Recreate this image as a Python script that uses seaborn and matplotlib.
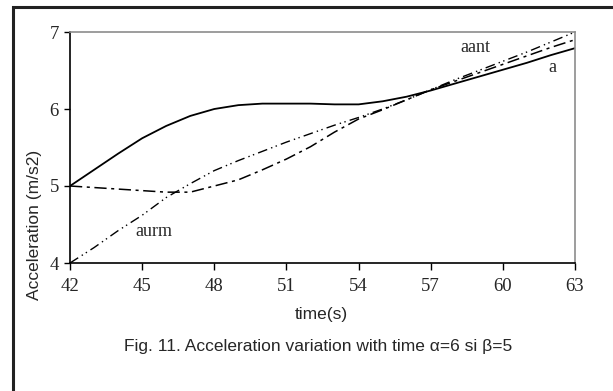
import matplotlib
matplotlib.use("Agg")
import matplotlib.pyplot as plt
import seaborn as sns
import pandas as pd
from matplotlib.patches import Rectangle

time_s = [42, 43, 44, 45, 46, 47, 48, 49, 50, 51, 52, 53, 54, 55, 56, 57, 58, 59, 60, 61, 62, 63]
a_vals = [5.00, 5.21, 5.42, 5.62, 5.78, 5.91, 6.00, 6.05, 6.07, 6.07, 6.07, 6.06, 6.06, 6.10,
          6.16, 6.24, 6.33, 6.42, 6.51, 6.60, 6.70, 6.79]
aant_vals = [5.00, 4.98, 4.96, 4.94, 4.92, 4.92, 5.00, 5.08, 5.21, 5.35, 5.51, 5.70, 5.87, 5.99,
             6.12, 6.25, 6.36, 6.47, 6.58, 6.69, 6.80, 6.90]
aurm_vals = [4.00, 4.20, 4.42, 4.62, 4.85, 5.03, 5.20, 5.33, 5.45, 5.57, 5.68, 5.79, 5.89, 6.00,
             6.12, 6.25, 6.38, 6.50, 6.62, 6.74, 6.87, 7.00]
x_ticks = [42, 45, 48, 51, 54, 57, 60, 63]
y_ticks = [4, 5, 6, 7]

df = pd.DataFrame({"time": time_s, "a": a_vals, "aant": aant_vals, "aurm": aurm_vals})

sns.set_style("white")
fig = plt.figure(figsize=(6.13, 3.91), dpi=100)
ax = fig.add_axes([70/613, 1-263/391, 505/613, 231/391])

sns.lineplot(data=df, x="time", y="a", ax=ax, color="black", linewidth=1.3)
sns.lineplot(data=df, x="time", y="aant", ax=ax, color="black", linewidth=1.1)
sns.lineplot(data=df, x="time", y="aurm", ax=ax, color="black", linewidth=1.0)
lines = ax.get_lines()
lines[1].set_dashes([8, 3, 2, 3])
lines[2].set_dashes([7, 3, 1, 2.5, 1, 3])

ax.set_xlim(42, 63)
ax.set_ylim(4, 7)
ax.set_xticks(x_ticks)
ax.set_yticks(y_ticks)
ax.set_xticklabels([str(v) for v in x_ticks], family="Liberation Serif", fontsize=13.5)
ax.set_yticklabels([str(v) for v in y_ticks], family="Liberation Serif", fontsize=13.5)
ax.tick_params(axis="x", direction="out", length=5, width=1, color="black", pad=6, bottom=True)
ax.tick_params(axis="y", direction="out", length=4, width=1, color="black", pad=4, left=True)

for s in ["left", "bottom"]:
    ax.spines[s].set_color("black")
    ax.spines[s].set_linewidth(1.2)
for s in ["top", "right"]:
    ax.spines[s].set_color("#8c8c8c")
    ax.spines[s].set_linewidth(1.2)
    ax.spines[s].set_visible(True)

ax.set_xlabel("")
ax.set_ylabel("")
fig.text(321/613, 1-315/391, "time(s)", family="Liberation Sans", fontsize=12.5,
         ha="center", va="center")
fig.text(35/613, 1-225/391, "Acceleration (m/s2)", family="Liberation Sans", fontsize=12.5,
         ha="center", va="center", rotation=90)

fig.text(475/613, 1-48/391, "aant", family="Liberation Serif",
         fontsize=13, ha="center", va="center")
fig.text(552/613, 1-67/391, "a", family="Liberation Serif",
         fontsize=13, ha="center", va="center")
fig.text(154/613, 1-232/391, "aurm", family="Liberation Serif",
         fontsize=13, ha="center", va="center")

fig.text(318/613, 1-346/391, "Fig. 11. Acceleration variation with time \u03b1=6 si \u03b2=5",
         family="Liberation Sans", fontsize=12.5, ha="center", va="center")

frame = Rectangle((13/613, -0.05), 1.1, 1 - 7/391 + 0.05, transform=fig.transFigure,
                  fill=False, edgecolor="#222222", linewidth=2.2, clip_on=False)
fig.patches.append(frame)

fig.savefig("out.png", dpi=100)
